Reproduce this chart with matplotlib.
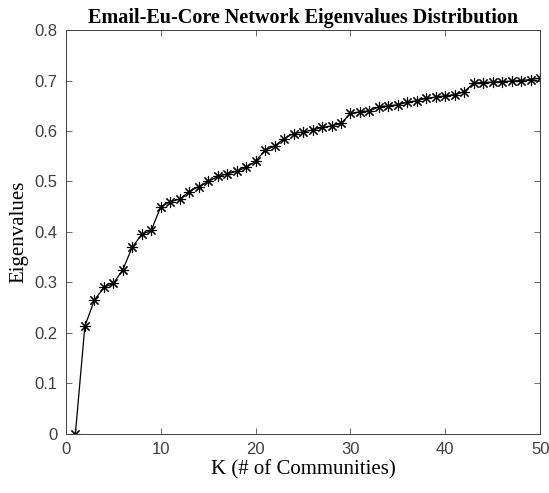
import numpy as np
import matplotlib.pyplot as plt

# number of communities K and the corresponding eigenvalues
k_values = list(range(1, 51))
eigenvalues = [
    0.000, 0.213, 0.265, 0.290, 0.298, 0.325, 0.370, 0.395, 0.403, 0.450,
    0.460, 0.465, 0.480, 0.490, 0.500, 0.510, 0.515, 0.520, 0.528, 0.540,
    0.562, 0.570, 0.585, 0.595, 0.598, 0.602, 0.607, 0.610, 0.615, 0.635,
    0.638, 0.640, 0.648, 0.650, 0.652, 0.657, 0.660, 0.665, 0.667, 0.670,
    0.672, 0.678, 0.695, 0.696, 0.697, 0.698, 0.699, 0.700, 0.702, 0.705,
]

x_ticks = [0, 10, 20, 30, 40, 50]
y_ticks = [0, 0.1, 0.2, 0.3, 0.4, 0.5, 0.6, 0.7, 0.8]

fig = plt.figure(figsize=(5.49, 4.93), dpi=100)
ax = fig.add_axes([0.120, 0.120, 0.864, 0.819])

# 8-spoke asterisk marker
ax.plot(k_values, eigenvalues, color='black', linewidth=0.9,
        marker=(8, 2, 0), markersize=8, markeredgewidth=0.8)

ax.set_xlim(0, 50)
ax.set_ylim(0, 0.8)
ax.set_xticks(x_ticks)
ax.set_yticks(y_ticks)
ax.set_xticklabels([str(t) for t in x_ticks])
ax.set_yticklabels(['0', '0.1', '0.2', '0.3', '0.4', '0.5', '0.6', '0.7', '0.8'])

ax.tick_params(direction='in', length=4, width=0.6, colors='#505050',
               labelsize=12, labelcolor='#404040', top=True, right=True, pad=6)
for t in ax.get_xticklabels() + ax.get_yticklabels():
    t.set_family('Liberation Sans')
for spine in ax.spines.values():
    spine.set_linewidth(0.7)
    spine.set_color('#404040')

ax.set_xlabel('K (# of Communities)', family='Liberation Serif', fontsize=15, labelpad=2)
ax.set_ylabel('Eigenvalues', family='Liberation Serif', fontsize=15, labelpad=4)
ax.set_title('Email-Eu-Core Network Eigenvalues Distribution',
             family='Liberation Serif', fontweight='bold', fontsize=14.5, pad=5)

fig.savefig('out.png', dpi=100)
